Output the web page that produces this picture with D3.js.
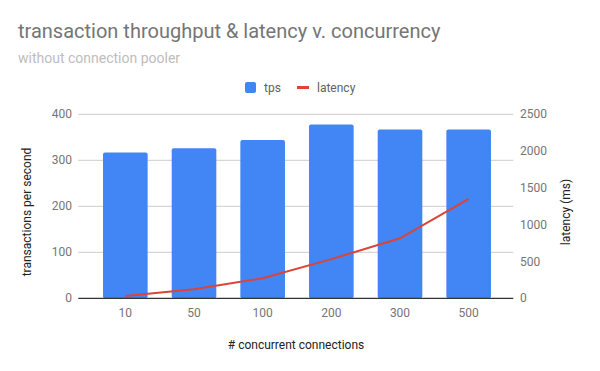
<!DOCTYPE html>
<html lang="en">
<head>
    <meta charset="UTF-8">
    <title>transaction throughput & latency v. concurrency</title>
    <script src="https://d3js.org/d3.v7.min.js"></script>
    <style>
        body { margin: 0; background: #fff; font-family: Roboto, sans-serif; }
        svg { display: block; }
    </style>
</head>
<body>
    <svg width="600" height="371"></svg>

    <script>
        const connections = ["10", "50", "100", "200", "300", "500"];
        const tps = [317, 326, 344, 378, 367, 367];
        const latency = [30, 122, 272, 532, 815, 1350];
        const tpsTicks = [0, 100, 200, 300, 400];
        const latencyTicks = [0, 500, 1000, 1500, 2000, 2500];

        const svg = d3.select("svg");
        const plotTop = 114.3, plotBottom = 298.3, plotLeft = 78.3, plotRight = 513.3;

        const x = d3.scaleBand()
            .domain(connections)
            .range([91, 503])
            .paddingInner(0.35)
            .paddingOuter(0.175);

        const yL = d3.scaleLinear().domain([0, 400]).range([plotBottom, plotTop]);
        const yR = d3.scaleLinear().domain([0, 2500]).range([plotBottom, plotTop]);

        // gridlines
        svg.append("g").selectAll("line")
            .data(tpsTicks.slice(1))
            .enter().append("line")
            .attr("x1", plotLeft).attr("x2", plotRight)
            .attr("y1", d => yL(d)).attr("y2", d => yL(d))
            .attr("stroke", "#cccccc").attr("stroke-width", 1);

        // bars
        svg.append("g").selectAll("rect")
            .data(tps)
            .enter().append("rect")
            .attr("x", (d, i) => x(connections[i]))
            .attr("y", d => yL(d))
            .attr("width", x.bandwidth())
            .attr("height", d => plotBottom - yL(d))
            .attr("rx", 2)
            .attr("fill", "#4285f4");

        // baseline
        svg.append("line")
            .attr("x1", plotLeft).attr("x2", plotRight)
            .attr("y1", plotBottom).attr("y2", plotBottom)
            .attr("stroke", "#333333").attr("stroke-width", 1.2);

        // latency line
        const line = d3.line()
            .x((d, i) => x(connections[i]) + x.bandwidth() / 2)
            .y(d => yR(d));
        svg.append("path")
            .datum(latency)
            .attr("d", line)
            .attr("fill", "none")
            .attr("stroke", "#db4437")
            .attr("stroke-width", 2);

        // left axis labels
        svg.append("g").selectAll("text")
            .data(tpsTicks)
            .enter().append("text")
            .attr("x", 72).attr("y", d => yL(d) + 4)
            .attr("text-anchor", "end")
            .attr("font-size", 12).attr("fill", "#757575")
            .text(d => d);

        // right axis labels
        svg.append("g").selectAll("text")
            .data(latencyTicks)
            .enter().append("text")
            .attr("x", 520).attr("y", d => yR(d) + 4)
            .attr("font-size", 12).attr("fill", "#757575")
            .text(d => d);

        // x labels
        svg.append("g").selectAll("text")
            .data(connections)
            .enter().append("text")
            .attr("x", d => x(d) + x.bandwidth() / 2)
            .attr("y", 317)
            .attr("text-anchor", "middle")
            .attr("font-size", 12).attr("fill", "#757575")
            .text(d => d);

        // axis titles
        svg.append("text")
            .attr("x", 296).attr("y", 349)
            .attr("text-anchor", "middle")
            .attr("font-size", 12).attr("fill", "#222222")
            .text("# concurrent connections");
        svg.append("text")
            .attr("transform", "translate(31,212) rotate(-90)")
            .attr("text-anchor", "middle")
            .attr("font-size", 12).attr("fill", "#222222")
            .text("transactions per second");
        svg.append("text")
            .attr("transform", "translate(570,212) rotate(-90)")
            .attr("text-anchor", "middle")
            .attr("font-size", 12).attr("fill", "#222222")
            .text("latency (ms)");

        // titles
        svg.append("text")
            .attr("x", 18).attr("y", 38)
            .attr("font-size", 20).attr("fill", "#757575")
            .text("transaction throughput & latency v. concurrency");
        svg.append("text")
            .attr("x", 18).attr("y", 63)
            .attr("font-size", 14).attr("fill", "#bdbdbd")
            .text("without connection pooler");

        // legend
        const legend = svg.append("g");
        legend.append("rect")
            .attr("x", 245).attr("y", 82).attr("width", 11).attr("height", 11)
            .attr("rx", 2).attr("fill", "#4285f4");
        legend.append("text")
            .attr("x", 264).attr("y", 91.5)
            .attr("font-size", 12).attr("fill", "#616161")
            .text("tps");
        legend.append("rect")
            .attr("x", 297).attr("y", 86).attr("width", 12).attr("height", 3)
            .attr("fill", "#db4437");
        legend.append("text")
            .attr("x", 317).attr("y", 91.5)
            .attr("font-size", 12).attr("fill", "#616161")
            .text("latency");
    </script>
</body>
</html>
